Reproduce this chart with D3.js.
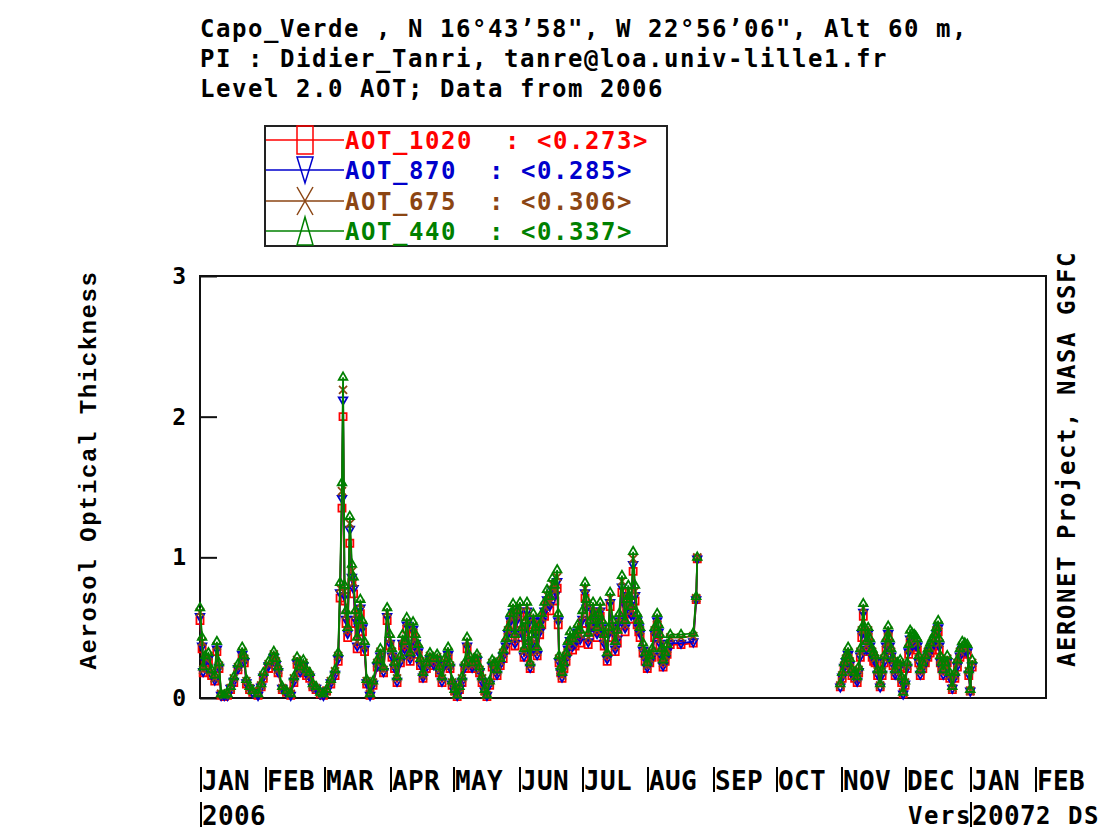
<!DOCTYPE html>
<html>
<head>
<meta charset="utf-8">
<script src="https://cdn.jsdelivr.net/npm/d3@7"></script>
<style>
  body { margin: 0; background: #fff; }
  text { font-family: "DejaVu Sans Mono", monospace; font-weight: bold; white-space: pre; }
</style>
</head>
<body>
<script>
// header lines
var titleLines = [
  'Capo_Verde , N 16°43’58", W 22°56’06", Alt 60 m,',
  'PI : Didier_Tanri, tanre@loa.univ-lille1.fr',
  'Level 2.0 AOT; Data from 2006'
];

// legend: label + mean value
var seriesNames = ['AOT_1020', 'AOT_870', 'AOT_675', 'AOT_440'];
var seriesMeans = ['0.273', '0.285', '0.306', '0.337'];
var seriesColors = ['#ff0000', '#0000cc', '#8b4513', '#008000'];

var yTicks = [0, 1, 2, 3];

// day of year 2006 (0 = Jan 1) of each measurement
var days = [
  0, 1, 1.5, 2.5, 4, 5.5, 7, 8, 9, 10, 11.5, 13,
  14.5, 16, 18, 20, 21, 22, 23.5, 25, 27.5, 29, 30, 32.5,
  35, 36, 37, 39, 41, 43, 44.5, 46, 47.5, 49, 50.5, 52,
  53.5, 55, 57, 58.5, 60, 62, 64, 65.5, 66.4, 67.3, 67.8, 68.5,
  69.2, 70, 71, 72, 72.8, 73.6, 74.5, 75.3, 76, 77, 78, 79,
  80.6, 82, 84, 85.5, 87, 88.7, 90, 91, 92.2, 93.4, 95, 96,
  97, 98, 99.6, 101, 102.2, 103.4, 104.5, 105.7, 107.3, 109, 110.7, 112.4,
  113.5, 114.7, 116, 117.6, 118.5, 119.5, 120.7, 121.9, 123, 124.2, 125.5, 126.6,
  127.8, 129, 130.2, 131.3, 132.5, 133.7, 135, 136, 137.3, 138.5, 139.7, 140.8,
  142.3, 143.7, 145, 146, 147.2, 148.4, 149.3, 150.3, 151.7, 152.6, 153.6, 154.3,
  155, 155.8, 156.5, 157.3, 158, 159, 159.8, 161, 162, 163.3, 164.5, 165.8,
  167, 168.2, 169.3, 169.8, 170.2, 171, 171.6, 172.5, 173.5, 174.4, 175.4, 176.6,
  177.8, 179, 180.2, 181.3, 182.5, 183.2, 184, 185, 186.3, 187.2, 188.2, 189,
  189.7, 190.6, 191.6, 193, 193.7, 194.4, 195.6, 196.8, 197.8, 198.7, 200, 201.5,
  202.3, 203, 203.7, 204.4, 205.3, 206.2, 207.2, 208, 208.6, 210, 211, 212,
  213.2, 214.3, 215.5, 216.7, 217.4, 218, 218.8, 219.5, 220.5, 221.4, 222.9, 228,
  233.8, 235.2, 235.7, 303.5, 304.4, 305.3, 306.2, 307.2, 308, 309, 310.3, 311.5,
  312.2, 313, 313.7, 314.4, 315.1, 315.8, 316.7, 317.6, 318.6, 319.3, 320, 321.2,
  322.4, 323.3, 324.3, 325.2, 326.2, 326.9, 327.6, 328.5, 329.5, 330.7, 331.9, 332.6,
  333.3, 334.2, 335.2, 335.9, 336.6, 337.5, 338.5, 339.2, 340, 340.7, 341.4, 342.6,
  343.8, 345, 346.1, 347, 348, 349, 349.9, 350.4, 350.9, 351.6, 352.3, 353.2,
  354.2, 355.4, 356.6, 357.8, 359, 360.2, 361.3, 362.5, 363.7, 364.4, 365.1, 366
];

var aot1020 = [
  .55,.35,.18,.25,.26,.16,.12,.33,.21,.02,.01,.02,
  .06,.11,.20,.30,.25,.10,.06,.04,.02,.08,.14,.21,
  .27,.23,.18,.06,.04,.02,.11,.24,.18,.22,.16,.14,
  .08,.06,.03,.02,.05,.10,.16,.26,.71,1.35,2.00,.69,
  .53,.43,1.10,.82,.74,.53,.35,.47,.60,.47,.33,.10,
  .02,.09,.22,.29,.18,.55,.37,.29,.21,.11,.25,.37,
  .33,.49,.26,.46,.37,.31,.23,.14,.21,.26,.23,.25,
  .18,.11,.23,.30,.21,.09,.05,.01,.06,.11,.21,.35,
  .25,.21,.23,.25,.18,.11,.05,.01,.09,.22,.21,.16,
  .23,.28,.34,.43,.52,.58,.37,.53,.58,.43,.29,.47,
  .58,.33,.21,.37,.52,.43,.30,.45,.52,.58,.66,.62,
  .73,.69,.78,.52,.25,.18,.14,.21,.26,.33,.39,.34,
  .37,.45,.39,.53,.71,.60,.38,.47,.58,.50,.43,.52,
  .58,.47,.37,.26,.43,.65,.47,.33,.39,.52,.75,.47,
  .60,.69,.62,.56,.90,.69,.52,.47,.43,.32,.26,.21,
  .25,.29,.43,.52,.45,.37,.29,.22,.26,.31,.38,.38,
  .39,.70,.99,.08,.14,.21,.25,.30,.23,.16,.14,.11,
  .18,.29,.43,.58,.43,.33,.43,.34,.29,.26,.25,.16,
  .08,.16,.25,.34,.44,.34,.29,.23,.16,.21,.22,.11,
  .03,.09,.21,.31,.39,.38,.37,.36,.34,.25,.16,.21,
  .25,.29,.32,.34,.37,.43,.47,.34,.25,.21,.16,.21,
  .25,.14,.06,.14,.22,.29,.33,.32,.31,.16,.05,.22
];

var aot870 = [
  .58,.37,.19,.26,.28,.17,.13,.35,.22,.02,.02,.02,
  .07,.12,.21,.31,.26,.11,.07,.04,.02,.08,.15,.23,
  .29,.24,.19,.07,.04,.02,.12,.25,.19,.23,.17,.15,
  .08,.07,.03,.02,.05,.11,.17,.28,.75,1.42,2.12,.73,
  .56,.46,1.20,.86,.78,.56,.37,.50,.64,.50,.35,.11,
  .02,.10,.23,.30,.19,.58,.39,.30,.22,.12,.26,.39,
  .35,.52,.28,.49,.39,.33,.24,.15,.22,.28,.24,.27,
  .19,.12,.24,.31,.22,.10,.05,.02,.07,.12,.22,.37,
  .26,.22,.24,.27,.19,.12,.05,.02,.10,.23,.22,.17,
  .24,.30,.37,.46,.55,.61,.39,.56,.62,.46,.30,.50,
  .62,.35,.22,.39,.55,.46,.31,.47,.55,.62,.70,.66,
  .77,.73,.83,.55,.26,.19,.15,.22,.28,.35,.41,.37,
  .39,.47,.42,.56,.75,.64,.40,.50,.62,.53,.46,.55,
  .62,.50,.39,.28,.46,.68,.50,.35,.42,.55,.79,.50,
  .64,.73,.66,.59,.95,.73,.55,.50,.46,.34,.28,.22,
  .26,.30,.46,.55,.47,.39,.30,.23,.28,.33,.39,.39,
  .40,.70,.99,.08,.15,.22,.26,.31,.24,.17,.15,.12,
  .19,.30,.46,.61,.46,.35,.46,.37,.30,.28,.26,.17,
  .08,.17,.26,.37,.46,.37,.30,.24,.17,.22,.23,.12,
  .03,.10,.22,.33,.42,.40,.39,.38,.37,.26,.17,.22,
  .26,.30,.34,.37,.39,.46,.50,.37,.26,.22,.17,.22,
  .26,.15,.07,.15,.23,.30,.35,.34,.33,.17,.05,.23
];

var aot675 = [
  .61,.40,.20,.28,.30,.19,.14,.37,.23,.03,.02,.03,
  .07,.14,.22,.33,.28,.12,.07,.05,.03,.09,.16,.24,
  .31,.26,.20,.07,.05,.03,.14,.27,.20,.25,.19,.16,
  .09,.07,.04,.03,.05,.12,.19,.30,.78,1.47,2.19,.76,
  .59,.48,1.24,.90,.82,.59,.40,.52,.67,.52,.37,.12,
  .03,.11,.25,.33,.20,.61,.42,.33,.23,.14,.28,.42,
  .37,.54,.30,.51,.42,.35,.26,.16,.23,.30,.26,.29,
  .20,.14,.26,.33,.23,.11,.05,.02,.07,.14,.23,.40,
  .28,.23,.26,.29,.20,.14,.05,.02,.11,.25,.23,.19,
  .26,.32,.39,.48,.57,.64,.42,.59,.65,.48,.33,.52,
  .65,.37,.23,.42,.57,.48,.33,.49,.57,.65,.73,.68,
  .81,.76,.86,.57,.28,.20,.16,.23,.30,.37,.44,.39,
  .42,.49,.45,.59,.78,.67,.43,.52,.65,.55,.48,.57,
  .65,.52,.42,.30,.48,.71,.52,.37,.45,.57,.83,.52,
  .67,.76,.68,.62,.99,.76,.57,.52,.48,.36,.30,.23,
  .28,.33,.48,.57,.49,.42,.33,.25,.30,.35,.43,.43,
  .44,.71,1.00,.09,.16,.23,.28,.33,.26,.19,.16,.14,
  .20,.33,.48,.64,.48,.37,.48,.39,.33,.30,.28,.19,
  .09,.19,.28,.39,.48,.39,.33,.26,.19,.23,.25,.14,
  .04,.11,.23,.35,.45,.43,.42,.41,.39,.28,.19,.23,
  .28,.33,.36,.39,.42,.48,.52,.39,.28,.23,.19,.23,
  .28,.16,.07,.16,.25,.33,.37,.36,.35,.19,.05,.25
];

var aot440 = [
  .64,.43,.22,.30,.32,.20,.16,.40,.25,.03,.02,.03,
  .08,.15,.24,.36,.30,.13,.08,.05,.03,.10,.18,.26,
  .33,.28,.22,.08,.05,.03,.15,.29,.22,.27,.20,.18,
  .10,.08,.04,.03,.06,.13,.20,.32,.82,1.53,2.28,.80,
  .62,.50,1.29,.95,.86,.62,.43,.55,.70,.55,.40,.13,
  .03,.12,.27,.35,.22,.64,.45,.35,.25,.15,.30,.45,
  .40,.57,.32,.54,.45,.38,.28,.18,.25,.32,.28,.31,
  .22,.15,.28,.36,.25,.12,.06,.02,.08,.15,.25,.43,
  .30,.25,.28,.31,.22,.15,.06,.02,.12,.27,.25,.20,
  .28,.34,.42,.50,.60,.67,.45,.62,.68,.50,.35,.55,
  .68,.40,.25,.45,.60,.50,.36,.52,.60,.68,.77,.72,
  .85,.80,.91,.60,.30,.22,.18,.25,.32,.40,.47,.42,
  .45,.52,.48,.62,.82,.70,.46,.55,.68,.58,.50,.60,
  .68,.55,.45,.32,.50,.75,.55,.40,.48,.60,.87,.55,
  .70,.80,.72,.65,1.04,.80,.60,.55,.50,.39,.32,.25,
  .30,.35,.50,.60,.52,.45,.35,.27,.32,.38,.45,.45,
  .46,.72,1.00,.10,.18,.25,.30,.36,.28,.20,.18,.15,
  .22,.35,.50,.67,.50,.40,.50,.42,.35,.32,.30,.20,
  .10,.20,.30,.42,.51,.42,.35,.28,.20,.25,.27,.15,
  .04,.12,.25,.38,.48,.46,.45,.44,.42,.30,.20,.25,
  .30,.35,.39,.42,.45,.50,.55,.42,.30,.25,.20,.25,
  .30,.18,.08,.18,.27,.35,.40,.39,.38,.20,.06,.27
];

var seriesValues = [aot1020, aot870, aot675, aot440];

var day0 = Date.UTC(2006, 0, 1);
var dayMs = 864e5;
function toDate(d) { return new Date(day0 + d * dayMs); }

var svg = d3.select('body').append('svg')
  .attr('width', 1102)
  .attr('height', 830);

var x = d3.scaleUtc()
  .domain([toDate(0), toDate(401)])
  .range([200, 1046]);

var y = d3.scaleLinear()
  .domain([0, 3])
  .range([698, 276]);

// monospace text at about 16px per character, like the original bitmap font
function mono(sel, size) {
  return sel.style('font-size', size + 'px')
    .style('letter-spacing', (16 - size * 0.602).toFixed(2) + 'px');
}

// title block
svg.selectAll('.title')
  .data(titleLines)
  .enter().append('text')
  .attr('class', 'title')
  .attr('x', 200)
  .attr('y', function(d, i) { return 37 + i * 30; })
  .call(mono, 24)
  .text(function(d) { return d; });

// legend
var legend = svg.append('g');
legend.append('rect')
  .attr('x', 265).attr('y', 126)
  .attr('width', 402).attr('height', 120)
  .attr('fill', 'none').attr('stroke', '#222').attr('stroke-width', 2);

var legendShapes = [
  'M-8,-14H8V14H-8Z',
  'M-8,-13H8L0,13Z',
  'M-8,-14L8,14M8,-14L-8,14',
  'M0,-14L8,14H-8Z'
];
var rowY = [140, 170, 201, 231];

seriesNames.forEach(function(name, i) {
  var g = legend.append('g');
  g.append('line')
    .attr('x1', 266).attr('x2', 344)
    .attr('y1', rowY[i]).attr('y2', rowY[i])
    .attr('stroke', seriesColors[i]).attr('stroke-width', 1.5);
  g.append('path')
    .attr('d', legendShapes[i])
    .attr('transform', 'translate(305,' + rowY[i] + ')')
    .attr('fill', 'none')
    .attr('stroke', seriesColors[i]).attr('stroke-width', 1.5);
  g.append('text')
    .attr('x', 345).attr('y', rowY[i] + 9)
    .attr('fill', seriesColors[i])
    .call(mono, 24)
    .text(name + '  : <' + seriesMeans[i] + '>');
});

// frame
svg.append('rect')
  .attr('x', 200).attr('y', 276)
  .attr('width', 846).attr('height', 422)
  .attr('fill', 'none').attr('stroke', '#111').attr('stroke-width', 2);

// y axis
var yAxis = svg.append('g')
  .attr('transform', 'translate(200,0)')
  .call(d3.axisLeft(y).tickValues(yTicks).tickFormat(d3.format('d')).tickSize(-17).tickPadding(14));
yAxis.select('.domain').remove();
yAxis.selectAll('line').attr('stroke', '#111').attr('stroke-width', 2);
yAxis.selectAll('text')
  .attr('fill', '#000')
  .style('font-size', '23px')
  .style('font-family', '"DejaVu Sans Mono", monospace');

// month axis
var months = x.ticks(d3.utcMonth.every(1));
var fmt = d3.utcFormat('%b');
var monthG = svg.append('g');
monthG.selectAll('line')
  .data(months)
  .enter().append('line')
  .attr('x1', function(d) { return Math.round(x(d)) + 1; })
  .attr('x2', function(d) { return Math.round(x(d)) + 1; })
  .attr('y1', 767).attr('y2', 792)
  .attr('stroke', '#000').attr('stroke-width', 2);
monthG.selectAll('text')
  .data(months)
  .enter().append('text')
  .attr('x', function(d) { return Math.round(x(d)) + 2; })
  .attr('y', 790)
  .call(mono, 26)
  .text(function(d) { return fmt(d).toUpperCase(); });

// version note; its middle is covered by the 2007 year label
svg.append('text')
  .attr('x', 908).attr('y', 824)
  .call(mono, 24)
  .text('Vers');
svg.append('text')
  .attr('x', 1036).attr('y', 824)
  .call(mono, 24)
  .text('2 DS');

var years = x.ticks(d3.utcYear.every(1));
var yearG = svg.append('g');
years.forEach(function(d) {
  var xx = Math.round(x(d)) + 1;
  yearG.append('line')
    .attr('x1', xx).attr('x2', xx)
    .attr('y1', 802).attr('y2', 827)
    .attr('stroke', '#000').attr('stroke-width', 2);
  yearG.append('text')
    .attr('x', xx + 1).attr('y', 825)
    .call(mono, 26)
    .text(d3.utcFormat('%Y')(d));
});

// axis titles
svg.append('text')
  .attr('transform', 'translate(96,470) rotate(-90)')
  .attr('text-anchor', 'middle')
  .style('font-family', '"Liberation Mono", monospace')
  .call(mono, 24)
  .text('Aerosol Optical Thickness');

svg.append('text')
  .attr('transform', 'translate(1075,459) rotate(-90)')
  .attr('text-anchor', 'middle')
  .call(mono, 24)
  .text('AERONET Project, NASA GSFC');

// data: split into runs where measurements are continuous
function segments(vals) {
  var segs = [], cur = [];
  days.forEach(function(d, i) {
    if (cur.length && d - days[i - 1] > 30) { segs.push(cur); cur = []; }
    cur.push([d, vals[i]]);
  });
  segs.push(cur);
  return segs;
}

var line = d3.line()
  .x(function(p) { return x(toDate(p[0])); })
  .y(function(p) { return y(p[1]); });

var symbols = [
  d3.symbol().type(d3.symbolSquare2).size(64),
  d3.symbol().type(d3.symbolTriangle2).size(52),
  d3.symbol().type(d3.symbolTimes).size(44),
  d3.symbol().type(d3.symbolTriangle2).size(52)
];
var rotations = [0, 180, 0, 0];

var plot = svg.append('g');
seriesValues.forEach(function(vals, s) {
  var g = plot.append('g');
  g.selectAll('path.ln')
    .data(segments(vals))
    .enter().append('path')
    .attr('class', 'ln')
    .attr('d', line)
    .attr('fill', 'none')
    .attr('stroke', seriesColors[s])
    .attr('stroke-width', 1.8);
  g.selectAll('path.mk')
    .data(vals)
    .enter().append('path')
    .attr('class', 'mk')
    .attr('d', symbols[s])
    .attr('transform', function(v, i) {
      return 'translate(' + x(toDate(days[i])) + ',' + y(v) + ') rotate(' + rotations[s] + ')';
    })
    .attr('fill', 'none')
    .attr('stroke', seriesColors[s])
    .attr('stroke-width', 1.8);
});
</script>
</body>
</html>
